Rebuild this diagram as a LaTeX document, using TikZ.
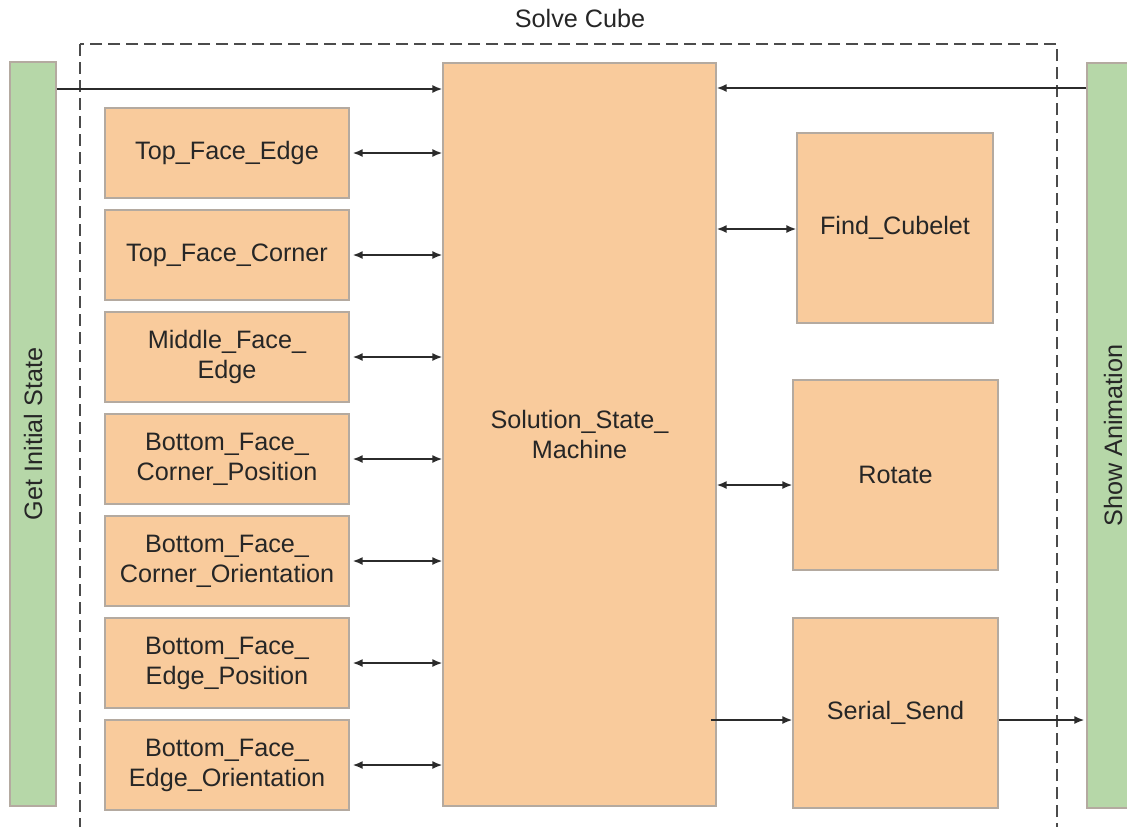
\documentclass[tikz,border=0pt]{standalone}
\usepackage{fontspec}
\setmainfont{Liberation Sans}
\usetikzlibrary{arrows.meta}
\tikzset{>={Latex[length=5pt,width=4pt]}}
\definecolor{Bfill}{HTML}{F9CB9C}
\definecolor{Gfill}{HTML}{B6D7A8}
\definecolor{Bline}{HTML}{B4AAA0}
\definecolor{Lcol}{HTML}{2B2B2B}
\definecolor{Tcol}{HTML}{262626}

\begin{document}
\begin{tikzpicture}[x=0.5pt, y=-0.5pt,
    font=\fontsize{12.6}{15}\selectfont,
    block/.style={draw=Bline, fill=Bfill, line width=0.6pt, align=center, inner sep=0pt, text=Tcol},
    side/.style={draw=Bline, fill=Gfill, line width=0.6pt, inner sep=0pt},
    link/.style={draw=Lcol, line width=0.9pt}]
    \useasboundingbox (0,0) rectangle (1127,826);
    \clip (0,0) rectangle (1127,826);

    % outer frame
    \draw[dash pattern=on 6pt off 3pt, line width=0.7pt, draw=Lcol!85] (80,44) rectangle (1057,860);
    \node[text=Tcol] (title) at (580,18) {Solve Cube};

    % input / output bars
    \node[side, minimum width=23pt, minimum height=372pt] (gleft) at (33,434) {};
    \node[rotate=90, text=Tcol] (gleftlbl) at (gleft) {Get Initial State};
    \node[side, minimum width=27pt, minimum height=372.5pt] (gright) at (1114,435.5) {};
    \node[rotate=90, text=Tcol] (grightlbl) at (1113,435.5) {Show Animation};

    % state machine
    \node[block, minimum width=136.5pt, minimum height=371.5pt] (ctrl) at (579.5,434.5) {Solution\_State\_\\Machine};

    % solving steps
    \foreach \name/\txt [count=\i from 0] in {tfe/Top\_Face\_Edge, tfc/Top\_Face\_Corner,
        mfe/{Middle\_Face\_\\Edge}, bcp/{Bottom\_Face\_\\Corner\_Position},
        bco/{Bottom\_Face\_\\Corner\_Orientation}, bep/{Bottom\_Face\_\\Edge\_Position},
        beo/{Bottom\_Face\_\\Edge\_Orientation}}{
        \node[block, minimum width=122pt, minimum height=45pt] (\name) at (227,153+102*\i) {\txt};
        \draw[link, <->] ([xshift=1.5pt]\name.east) -- (ctrl.west |- \name.east);
    }

    % helpers
    \node[block, minimum width=98pt, minimum height=95pt] (find) at (895,228) {Find\_Cubelet};
    \node[block, minimum width=102.5pt, minimum height=95pt] (rot) at (895.5,475) {Rotate};
    \node[block, minimum width=102.5pt, minimum height=95pt] (send) at (895.5,713) {Serial\_Send};

    \draw[link, <->] (ctrl.east |- 0,229) -- (find.west |- 0,229);
    \draw[link, <->] (ctrl.east |- 0,485) -- (rot.west |- 0,485);
    \draw[link, ->] ([xshift=-3pt]ctrl.east |- 0,720) -- (send.west |- 0,720);
    \draw[link, ->] (send.east |- 0,720) -- ([xshift=-1pt]gright.west |- 0,720);

    % main data flow
    \draw[link, ->] (gleft.east |- 0,89) -- (ctrl.west |- 0,89);
    \draw[link, ->] (gright.west |- 0,88) -- (ctrl.east |- 0,88);
\end{tikzpicture}
\end{document}
